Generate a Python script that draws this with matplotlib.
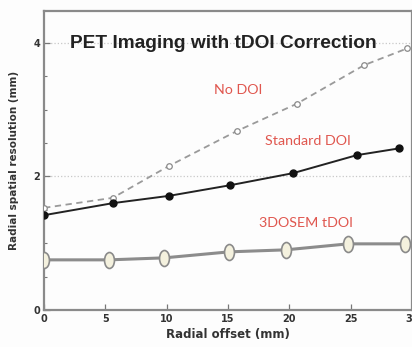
import matplotlib

matplotlib.use("Agg")

import matplotlib.pyplot as plt
import numpy as np
from matplotlib.path import Path
from matplotlib.transforms import Affine2D
from matplotlib.ticker import MultipleLocator

# ---------- data ----------
no_doi_x = [0.0, 5.6, 10.2, 15.7, 20.6, 26.1, 29.6]
no_doi_y = [1.53, 1.68, 2.16, 2.68, 3.09, 3.67, 3.92]

std_doi_x = [0.0, 5.6, 10.2, 15.2, 20.3, 25.5, 28.9]
std_doi_y = [1.42, 1.60, 1.71, 1.87, 2.05, 2.32, 2.42]

tdoi_x = [0.0, 5.3, 9.8, 15.1, 19.7, 24.8, 29.4]
tdoi_y = [0.75, 0.75, 0.78, 0.87, 0.90, 0.99, 0.99]

x_ticks = [0, 5, 10, 15, 20, 25, 30]
y_ticks = [0, 2, 4]

TITLE = "PET Imaging with tDOI Correction"
RED = "#e0574f"

fig = plt.figure(figsize=(4.12, 3.47), dpi=100, facecolor="#fdfdfd")
ax = fig.add_axes([0.107, 0.107, 0.893, 0.861])
ax.set_facecolor("#fdfdfd")

# tall ellipse marker for the tDOI series
ellipse = Path.unit_circle().transformed(Affine2D().scale(0.62, 1.0))

ax.plot(no_doi_x, no_doi_y, ls=(0, (3.5, 2.5)), color="#9a9a9a", lw=1.3,
        marker="o", ms=4, mfc="white", mec="#8a8a8a", mew=0.9, zorder=3)
ax.plot(std_doi_x, std_doi_y, ls="-", color="#222222", lw=1.4,
        marker="o", ms=5, mfc="#111111", mec="#111111", zorder=4)
ax.plot(tdoi_x, tdoi_y, ls="-", color="#8c8c8c", lw=2.2,
        marker=ellipse, ms=11.5, mfc="#f4f1de", mec="#8a8a8a", mew=1.2, zorder=3)

ax.set_xlim(0, 30)
ax.set_ylim(0, 4.48)
ax.set_xticks(x_ticks)
ax.set_yticks(y_ticks)
ax.yaxis.set_minor_locator(MultipleLocator(0.5))
ax.tick_params(axis="both", which="both", direction="in", color="#777777",
               labelsize=7, labelcolor="#333333", pad=3)
ax.tick_params(axis="both", which="major", length=4, width=0.9)
ax.tick_params(axis="y", which="minor", length=2.5, width=0.8)
for lab in ax.get_xticklabels() + ax.get_yticklabels():
    lab.set_fontweight("bold")

ax.grid(axis="y", which="major", ls=":", color="#c8c8c8", lw=0.9)
ax.set_axisbelow(True)

for sp in ax.spines.values():
    sp.set_color("#8a8a8a")
    sp.set_linewidth(1.6)

ax.set_xlabel("Radial offset (mm)", fontsize=8.5, fontweight="bold",
              color="#333333", labelpad=3)
ax.set_ylabel("Radial spatial resolution (mm)", fontsize=7.5, fontweight="bold",
              color="#333333", labelpad=10)

ax.text(0.541, 0.876, TITLE, transform=fig.transFigure, ha="center", va="center",
        fontsize=13.8, fontweight="bold", color="#222222", family="Liberation Sans")

label_kw = dict(ha="center", va="center", color=RED, fontsize=10.3, family="Lato")
ax.text(0.578, 0.74, "No DOI", transform=fig.transFigure, **label_kw)
ax.text(0.748, 0.594, "Standard DOI", transform=fig.transFigure, **label_kw)
ax.text(0.743, 0.357, "3DOSEM tDOI", transform=fig.transFigure, **label_kw)

fig.savefig("out.png", dpi=100, facecolor=fig.get_facecolor())
